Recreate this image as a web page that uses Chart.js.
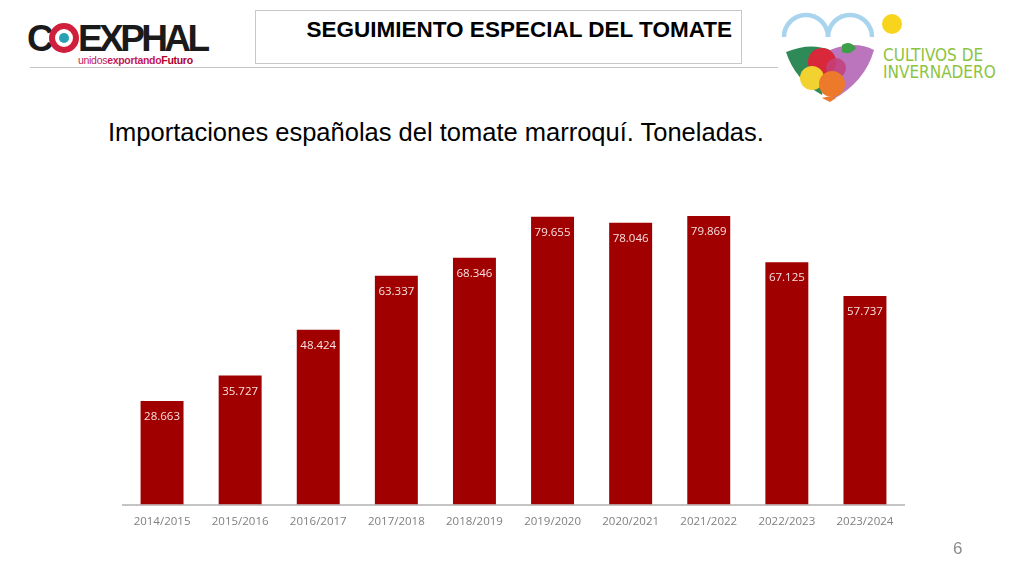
<!DOCTYPE html>
<html>
<head>
<meta charset="utf-8">
<script src="https://cdn.jsdelivr.net/npm/chart.js@4"></script>
<style>
  html, body { margin:0; padding:0; background:#fff; }
  #wrap { position:relative; width:1024px; height:576px; overflow:hidden; font-family:"Liberation Sans", Arial, sans-serif; }
  #chartCanvas { position:absolute; left:0; top:0; }
  .abs { position:absolute; }
  #hline { left:30px; top:67px; width:748px; height:0; border-top:1.5px solid #c4c4c4; }
  #titlebox { left:255px; top:10px; width:487px; height:54px; border:1.5px solid #c8c8c8; background:#fff; box-sizing:border-box; }
  #titletext { left:255px; top:17px; width:477px; text-align:right; font-weight:bold; font-size:22.5px; line-height:26px; color:#000; white-space:nowrap; }
  #subtitle { left:108px; top:117px; font-size:25.5px; line-height:30px; color:#000; white-space:nowrap; }
  #pagenum { left:953px; top:539px; font-size:17px; color:#8c8c8c; }
</style>
</head>
<body>
<div id="wrap">
  <div class="abs" id="hline"></div>
  <div class="abs" id="titlebox"></div>
  <div class="abs" id="titletext">SEGUIMIENTO ESPECIAL DEL TOMATE</div>
  <svg class="abs" style="left:0;top:0" width="260" height="80">
    <text x="27" y="51" font-family="Liberation Sans, Arial" font-weight="bold" font-size="37" fill="#1a1a1a" letter-spacing="-2.5">C</text>
    <circle cx="64" cy="38" r="12" fill="none" stroke="#d01f3c" stroke-width="6"/>
    <circle cx="64" cy="38" r="5" fill="#2aa0b4"/>
    <text x="78" y="51" font-family="Liberation Sans, Arial" font-weight="bold" font-size="37" fill="#1a1a1a" letter-spacing="-3.6">EXPHAL</text>
    <text x="78" y="64" font-family="Liberation Sans, Arial" font-size="10.5" fill="#c2185b" letter-spacing="-0.3">unidos<tspan font-weight="bold">exportando</tspan><tspan font-weight="bold" fill="#b0002a">Futuro</tspan></text>
  </svg>
  <svg class="abs" style="left:770px;top:0" width="254" height="110">
    <path d="M14 37 A 22 22 0 0 1 58 37" fill="none" stroke="#a9d4ee" stroke-width="4.5"/>
    <path d="M58 37 A 22 22 0 0 1 102 37" fill="none" stroke="#a9d4ee" stroke-width="4.5"/>
    <circle cx="122" cy="24" r="10" fill="#f7d51d"/>
    <path d="M16 52 Q 40 42 60 50 L 52 95 Q 25 80 16 52 Z" fill="#2e8b57"/>
    <path d="M60 50 Q 85 40 104 50 Q 95 82 62 100 Z" fill="#b266b5" opacity="0.9"/>
    <circle cx="52" cy="62" r="14" fill="#d9283a"/>
    <path d="M72 45 Q 80 40 86 48 Q 80 56 72 52 Z" fill="#3f9e4a"/>
    <circle cx="66" cy="68" r="10" fill="#c43f7a" opacity="0.85"/>
    <circle cx="42" cy="78" r="12" fill="#f2d230"/>
    <circle cx="62" cy="84" r="13" fill="#ec7a2a"/>
    <path d="M52 98 Q 60 95 66 98 L 60 102 Z" fill="#ec7a2a"/>
    <text x="113" y="61" font-family="DejaVu Sans Condensed, DejaVu Sans" font-size="17" fill="#8cc43f" letter-spacing="0">CULTIVOS DE</text>
    <text x="113" y="78" font-family="DejaVu Sans Condensed, DejaVu Sans" font-size="17" fill="#8cc43f" letter-spacing="0">INVERNADERO</text>
  </svg>
  <div class="abs" id="subtitle">Importaciones españolas del tomate marroquí. Toneladas.</div>
  <canvas id="chartCanvas" width="1024" height="576"></canvas>
  <div class="abs" id="pagenum">6</div>
</div>
<script>
const categories = ["2014/2015","2015/2016","2016/2017","2017/2018","2018/2019","2019/2020","2020/2021","2021/2022","2022/2023","2023/2024"];
const importTonnes = [28663, 35727, 48424, 63337, 68346, 79655, 78046, 79869, 67125, 57737];

function fmtEs(v) {
  return String(Math.round(v)).replace(/\B(?=(\d{3})+(?!\d))/g, ".");
}

const labelPlugin = {
  id: "barLabels",
  afterDatasetsDraw(chart) {
    const ctx = chart.ctx;
    const meta = chart.getDatasetMeta(0);
    ctx.save();
    ctx.font = "11.5px 'Open Sans'";
    ctx.fillStyle = "#f6e0e0";
    ctx.textAlign = "center";
    ctx.textBaseline = "middle";
    meta.data.forEach((bar, i) => {
      ctx.fillText(fmtEs(chart.data.datasets[0].data[i]), bar.x, bar.y + 16);
    });
    ctx.restore();
  }
};

new Chart(document.getElementById("chartCanvas"), {
  type: "bar",
  data: {
    labels: categories,
    datasets: [{
      data: importTonnes,
      backgroundColor: "#a00000",
      borderWidth: 0,
      categoryPercentage: 1,
      barPercentage: 0.55
    }]
  },
  options: {
    responsive: false,
    animation: false,
    devicePixelRatio: 1,
    layout: { padding: { left: 123, right: 120, top: 179.5, bottom: 37 } },
    plugins: { legend: { display: false }, tooltip: { enabled: false } },
    scales: {
      y: { display: false, min: 0, max: 90000 },
      x: {
        grid: { display: false, drawTicks: false },
        border: { display: true, color: "#c4c4c4", width: 2 },
        ticks: { color: "#7f7f7f", font: { family: "'Open Sans'", size: 11.5 }, padding: 10.3, maxRotation: 0, autoSkip: false }
      }
    }
  },
  plugins: [labelPlugin]
});
</script>
</body>
</html>
